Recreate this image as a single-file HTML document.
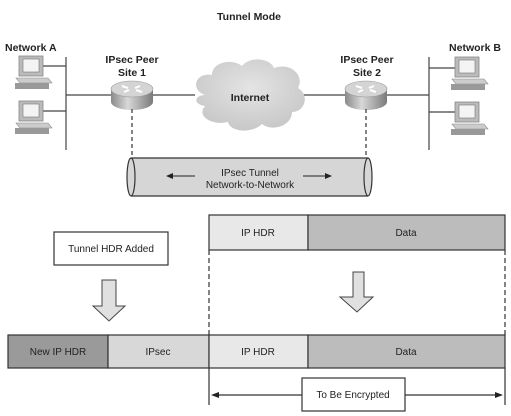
<!DOCTYPE html>
<html><head><style>
html,body{margin:0;padding:0;background:#fff}
svg{display:block}
text{font-family:"Liberation Sans",sans-serif;fill:#222}
</style></head><body>
<svg width="511" height="416" viewBox="0 0 511 416" xmlns="http://www.w3.org/2000/svg">
<defs>
<linearGradient id="rb" x1="0" x2="1" y1="0" y2="0">
<stop offset="0" stop-color="#8a8a8a"/><stop offset="0.4" stop-color="#d8d8d8"/><stop offset="1" stop-color="#7a7a7a"/>
</linearGradient>
<radialGradient id="cl" cx="0.5" cy="0.4" r="0.6"><stop offset="0" stop-color="#e4e4e4"/><stop offset="1" stop-color="#c8c8c8"/></radialGradient>
<g id="pc">
<rect x="0" y="0" width="24" height="20" fill="#bbb" stroke="#888" stroke-width="0.8"/>
<rect x="4" y="3" width="16" height="13" fill="#f4f4f4" stroke="#777" stroke-width="0.6"/>
<polygon points="-3,22 29,22 33,27 1,27" fill="#ccc" stroke="#888" stroke-width="0.6"/>
<rect x="-4" y="27" width="34" height="6" fill="#999"/>
</g>
<g id="rt">
<path d="M-21,0 v13 a21,8 0 0 0 42,0 v-13" fill="url(#rb)"/>
<ellipse cx="0" cy="0" rx="21" ry="8" fill="#d4d4d4" stroke="#999" stroke-width="0.6"/>
<path d="M-10,-3 l6,2 M10,3 l-6,-2 M-8,3 l5,-2 M8,-3 l-5,2" stroke="#fff" stroke-width="2"/>
</g>
</defs>

<text x="249" y="20" font-size="10.5" font-weight="bold" text-anchor="middle">Tunnel Mode</text>
<text x="5" y="51" font-size="10.5" font-weight="bold">Network A</text>
<text x="475" y="51" font-size="10.5" font-weight="bold" text-anchor="middle">Network B</text>
<text x="132" y="63" font-size="10.5" font-weight="bold" text-anchor="middle">IPsec Peer</text>
<text x="132" y="76" font-size="10.5" font-weight="bold" text-anchor="middle">Site 1</text>
<text x="367" y="63" font-size="10.5" font-weight="bold" text-anchor="middle">IPsec Peer</text>
<text x="367" y="76" font-size="10.5" font-weight="bold" text-anchor="middle">Site 2</text>

<g stroke="#444" stroke-width="1.2">
<line x1="66" y1="57" x2="66" y2="150"/>
<line x1="43" y1="66" x2="66" y2="66"/>
<line x1="43" y1="111" x2="66" y2="111"/>
<line x1="66" y1="95" x2="112" y2="95"/>
<line x1="152" y1="95" x2="195" y2="95"/>
<line x1="303" y1="95" x2="346" y2="95"/>
<line x1="386" y1="95" x2="429" y2="95"/>
<line x1="429" y1="57" x2="429" y2="150"/>
<line x1="429" y1="68" x2="455" y2="68"/>
<line x1="429" y1="112" x2="455" y2="112"/>
</g>
<use href="#pc" x="19" y="56"/>
<use href="#pc" x="19" y="101"/>
<use href="#pc" x="455" y="57"/>
<use href="#pc" x="455" y="102"/>

<path d="M205,95 C190,90 195,72 212,75 C212,62 232,58 242,66 C250,56 270,58 274,68 C290,62 305,75 298,88 C310,95 305,112 292,112 C292,126 272,132 262,124 C252,134 230,132 228,122 C212,126 196,116 205,106 C192,104 195,95 205,95 Z" fill="url(#cl)"/>
<text x="250" y="101" font-size="10.5" font-weight="bold" text-anchor="middle">Internet</text>

<use href="#rt" x="132" y="89"/>
<use href="#rt" x="366" y="89"/>

<g stroke="#333" stroke-width="1.2" stroke-dasharray="4,3">
<line x1="132" y1="109" x2="132" y2="158"/>
<line x1="366" y1="109" x2="366" y2="158"/>
</g>

<rect x="131" y="158" width="237" height="38" fill="#d6d6d6"/>
<line x1="131" y1="158" x2="368" y2="158" stroke="#333" stroke-width="1.2"/>
<line x1="131" y1="196" x2="368" y2="196" stroke="#333" stroke-width="1.2"/>
<ellipse cx="131" cy="177" rx="4" ry="19" fill="#d6d6d6" stroke="#333" stroke-width="1.2"/>
<ellipse cx="368" cy="177" rx="4" ry="19" fill="#d6d6d6" stroke="#333" stroke-width="1.2"/>
<text x="250" y="176" font-size="10" text-anchor="middle">IPsec Tunnel</text>
<text x="250" y="188" font-size="10" text-anchor="middle">Network-to-Network</text>
<g stroke="#222" stroke-width="1"><line x1="170" y1="176" x2="195" y2="176"/><line x1="303" y1="176" x2="328" y2="176"/></g>
<polygon points="166,176 173,173 173,179" fill="#222"/>
<polygon points="332,176 325,173 325,179" fill="#222"/>

<!-- bottom -->
<g stroke="#333" stroke-width="1.2" font-size="10">
<rect x="209" y="215" width="99" height="35" fill="#e8e8e8"/>
<rect x="308" y="215" width="197" height="35" fill="#bcbcbc"/>
<rect x="54" y="232" width="114" height="33" fill="#fff"/>
<rect x="8" y="335" width="100" height="33" fill="#9a9a9a"/>
<rect x="108" y="335" width="101" height="33" fill="#d8d8d8"/>
<rect x="209" y="335" width="99" height="33" fill="#e8e8e8"/>
<rect x="308" y="335" width="197" height="33" fill="#bcbcbc"/>
</g>
<g stroke="#333" stroke-width="1.2" stroke-dasharray="5,3">
<line x1="209" y1="250" x2="209" y2="335"/>
<line x1="505" y1="250" x2="505" y2="335"/>
</g>
<g stroke="#333" stroke-width="1.2">
<line x1="209" y1="368" x2="209" y2="405"/>
<line x1="505" y1="368" x2="505" y2="405"/>
<line x1="215" y1="395" x2="302" y2="395"/>
<line x1="405" y1="395" x2="499" y2="395"/>
</g>
<polygon points="211,395 219,392 219,398" fill="#222"/>
<polygon points="503,395 495,392 495,398" fill="#222"/>
<rect x="302" y="378" width="103" height="33" fill="#fff" stroke="#333" stroke-width="1.2"/>

<polygon points="102,280 116,280 116,306 125,306 109,321 93,306 102,306" fill="#e0e0e0" stroke="#444" stroke-width="1"/>
<polygon points="353,272 364,272 364,297 373,297 357,312 340,297 353,297" fill="#e0e0e0" stroke="#444" stroke-width="1"/>

<g font-size="10" text-anchor="middle">
<text x="258" y="236">IP HDR</text>
<text x="406" y="236">Data</text>
<text x="111" y="252">Tunnel HDR Added</text>
<text x="58" y="355">New IP HDR</text>
<text x="158" y="355">IPsec</text>
<text x="258" y="355">IP HDR</text>
<text x="406" y="355">Data</text>
<text x="353" y="398">To Be Encrypted</text>
</g>
</svg>
</body></html>
